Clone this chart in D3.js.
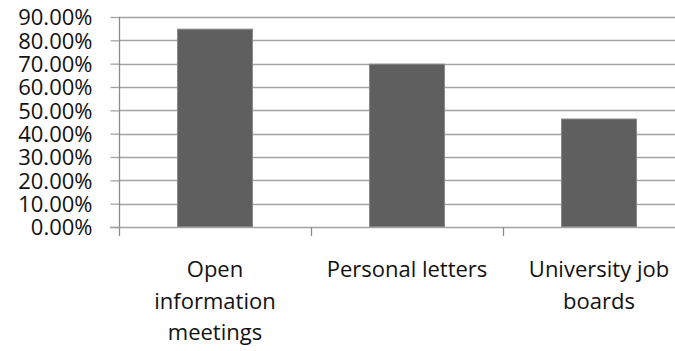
<!DOCTYPE html>
<html>
<head>
<meta charset="utf-8">
<script src="https://cdn.jsdelivr.net/npm/d3@7"></script>
<style>
  html, body { margin: 0; padding: 0; background: #fff; overflow: hidden; }
  svg { display: block; }
  text { font-family: "Open Sans", sans-serif; fill: #111; }
</style>
</head>
<body>
<svg id="chart" width="675" height="351"></svg>
<script>
// Share of respondents by channel
const categories = ["Open information meetings", "Personal letters", "University job boards"];
const values = [0.85, 0.70, 0.465];
const yTicks = [0, 0.1, 0.2, 0.3, 0.4, 0.5, 0.6, 0.7, 0.8, 0.9];

const svg = d3.select("#chart");
const plot = { left: 119, right: 695, top: 17, bottom: 227 };

const x = d3.scaleBand()
  .domain(categories)
  .range([plot.left, plot.right])
  .paddingInner(0.604)
  .paddingOuter(0.302);

const y = d3.scaleLinear()
  .domain([0, 0.9])
  .range([plot.bottom, plot.top]);

const gridColor = "#a3a3a3";
const axisColor = "#8c8c8c";

// horizontal gridlines
svg.append("g")
  .selectAll("line")
  .data(yTicks.filter(d => d > 0))
  .join("line")
  .attr("x1", plot.left)
  .attr("x2", plot.right)
  .attr("y1", d => Math.round(y(d)) + 0.5)
  .attr("y2", d => Math.round(y(d)) + 0.5)
  .attr("stroke", gridColor)
  .attr("stroke-width", 1.3);

// bars
svg.append("g")
  .selectAll("rect")
  .data(values)
  .join("rect")
  .attr("x", (d, i) => x(categories[i]) + 0.5)
  .attr("y", d => y(d) + 0.5)
  .attr("width", x.bandwidth() - 1)
  .attr("height", d => y(0) - y(d) - 0.5)
  .attr("fill", "#5f5f5f")
  .attr("stroke", "#8a8a8a")
  .attr("stroke-width", 1);

// y axis with percentage labels
const yAxis = d3.axisLeft(y)
  .tickValues(yTicks)
  .tickFormat(d3.format(".2%"))
  .tickSize(9)
  .tickPadding(18);

const gy = svg.append("g")
  .attr("transform", `translate(${plot.left + 0.5},0)`)
  .call(yAxis);
gy.select(".domain").remove();
gy.selectAll(".tick line").attr("stroke", gridColor).attr("stroke-width", 1.3);
gy.selectAll(".tick text")
  .style("font-family", "'Open Sans', sans-serif")
  .style("font-size", "22px")
  .attr("fill", "#111")
  .attr("dy", "0.36em");

// vertical axis line
svg.append("line")
  .attr("x1", plot.left + 0.5).attr("x2", plot.left + 0.5)
  .attr("y1", plot.top).attr("y2", plot.bottom + 9)
  .attr("stroke", axisColor).attr("stroke-width", 1.3);

// baseline
svg.append("line")
  .attr("x1", plot.left - 9).attr("x2", plot.right)
  .attr("y1", Math.round(y(0)) + 0.5).attr("y2", Math.round(y(0)) + 0.5)
  .attr("stroke", gridColor).attr("stroke-width", 1.3);

// category boundary ticks below the baseline
const gap = (x.step() - x.bandwidth()) / 2;
svg.append("g")
  .selectAll("line")
  .data(categories.slice(1))
  .join("line")
  .attr("x1", d => Math.round(x(d) - gap) + 0.5)
  .attr("x2", d => Math.round(x(d) - gap) + 0.5)
  .attr("y1", plot.bottom)
  .attr("y2", plot.bottom + 9)
  .attr("stroke", axisColor)
  .attr("stroke-width", 1.3);

// category labels, wrapped to fit
const maxWidth = 175;
const lineHeight = 31.5;
const labels = svg.append("g")
  .selectAll("text")
  .data(categories)
  .join("text")
  .attr("text-anchor", "middle")
  .style("font-size", "22px")
  .attr("x", d => x(d) + x.bandwidth() / 2)
  .attr("y", 277);

labels.each(function (d) {
  const text = d3.select(this);
  const cx = x(d) + x.bandwidth() / 2;
  const words = d.split(" ");
  let line = [];
  let tspan = text.append("tspan").attr("x", cx).attr("dy", 0);
  for (const w of words) {
    line.push(w);
    tspan.text(line.join(" "));
    if (tspan.node().getComputedTextLength() > maxWidth && line.length > 1) {
      line.pop();
      tspan.text(line.join(" "));
      line = [w];
      tspan = text.append("tspan").attr("x", cx).attr("dy", lineHeight).text(w);
    }
  }
});
</script>
</body>
</html>
